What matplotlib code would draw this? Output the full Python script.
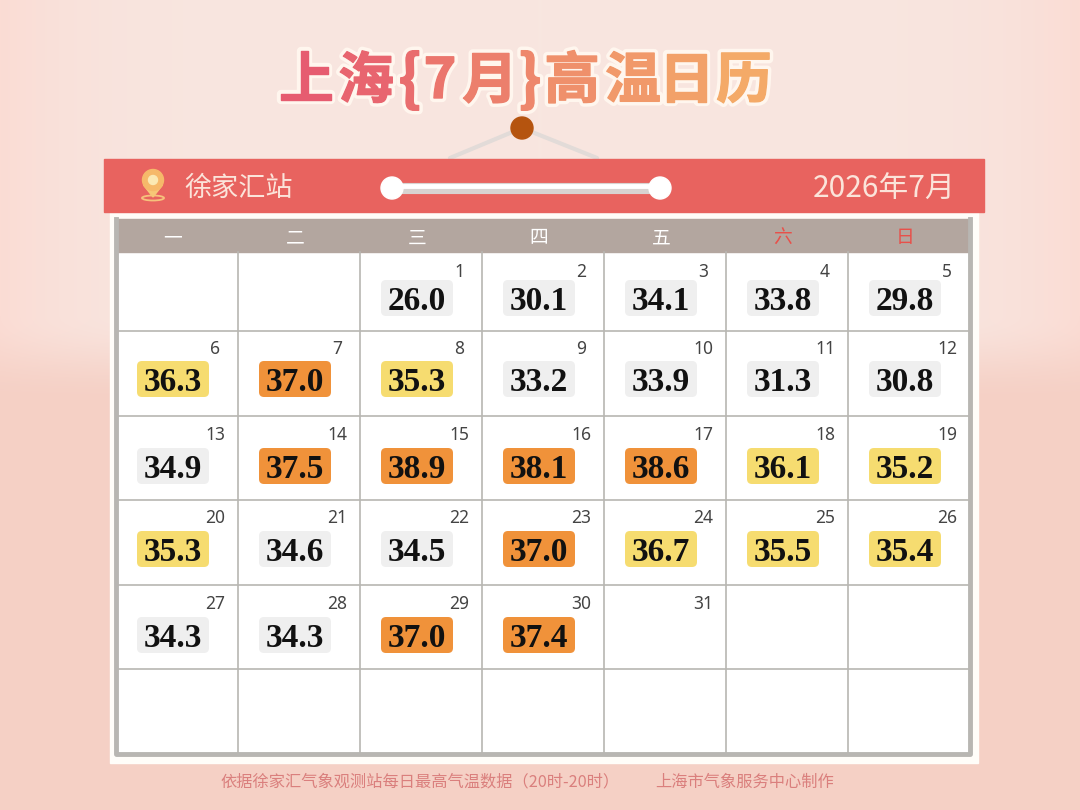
import matplotlib
matplotlib.use("Agg")
import matplotlib.pyplot as plt
import numpy as np
import matplotlib.patheffects as pe
from matplotlib.patches import Rectangle, FancyBboxPatch, Circle, Ellipse, Polygon

plt.rcParams['font.family'] = ['Noto Sans CJK SC', 'DejaVu Sans']

# daily highs, one entry per day of the month (None = not yet recorded)
days = list(range(1, 32))
temps = [26.0, 30.1, 34.1, 33.8, 29.8,
         36.3, 37.0, 35.3, 33.2, 33.9, 31.3, 30.8,
         34.9, 37.5, 38.9, 38.1, 38.6, 36.1, 35.2,
         35.3, 34.6, 34.5, 37.0, 36.7, 35.5, 35.4,
         34.3, 34.3, 37.0, 37.4, None]
weekdays = ['一', '二', '三', '四', '五', '六', '日']
first_col = 2

title_chars = ['上', '海', '{', '7', '月', '}', '高', '温', '日', '历']
title_x = [306, 366, 410, 440, 490, 530, 572, 633, 686, 744]
title_start = np.array([230, 92, 112]) / 255
title_end = np.array([244, 170, 104]) / 255

col_x = [116, 238, 360, 482, 604, 726, 848, 970]
row_y = [252, 331, 416, 500, 585, 669, 754]
pill_y = [298, 379, 466, 549, 635]
num_y = [270, 347, 433, 516, 602]

GREY = '#efefef'
YELLOW = '#f6dc70'
ORANGE = '#f0923a'
LINE = '#b8b6b2'


def pill_color(t):
    if t >= 37:
        return ORANGE
    if t >= 35:
        return YELLOW
    return GREY


fig = plt.figure(figsize=(10.8, 8.1), dpi=100)
ax = fig.add_axes([0, 0, 1, 1])
ax.set_xlim(0, 1080)
ax.set_ylim(810, 0)
ax.axis('off')

# background wash, pinker toward the side edges at the top
h = np.linspace(0, 1, 810)
w = np.linspace(-1, 1, 1080)
top = np.array([248, 230, 224]) / 255
edge = np.array([251, 220, 212]) / 255
bottom = np.array([245, 208, 197]) / 255
side = (np.abs(w) ** 6)[None, :, None]
upper = top * (1 - side) + edge * side
t = np.clip((h - 0.39) / 0.11, 0, 1)
mix = (t * t * (3 - 2 * t))[:, None, None]
bg = upper * (1 - mix) + bottom * mix
ax.imshow(bg, extent=[0, 1080, 810, 0], aspect='auto', zorder=0)

# title
for i, (c, x) in enumerate(zip(title_chars, title_x)):
    col = title_start + (title_end - title_start) * i / (len(title_chars) - 1)
    size = 44 if c in '{}' else 40
    ax.text(x, 82, c, color=col, fontsize=size, fontweight='bold', ha='center', va='center',
            zorder=6, path_effects=[pe.withStroke(linewidth=6, foreground='#fff6ee'),
                                    pe.withStroke(linewidth=1, foreground=col)])

# hanger
ax.plot([450, 522, 597], [158, 128, 158], color='#e2dbd8', lw=3, zorder=2, solid_capstyle='round')
ax.add_patch(Circle((522, 128), 11, color='#b5540f', zorder=3))

# card frame
ax.add_patch(Rectangle((110, 212), 868, 551, color='#fffdf9', zorder=1))
ax.add_patch(Rectangle((col_x[0], row_y[0]), col_x[-1] - col_x[0], row_y[-1] - row_y[0],
                       color='white', zorder=2))
ax.add_patch(Rectangle((col_x[0], 219), col_x[-1] - col_x[0], row_y[0] - 219, color='#b3a69f', zorder=2))

# grid
for x in col_x[1:-1]:
    ax.plot([x, x], [row_y[0], row_y[-1]], color=LINE, lw=1.2, zorder=3)
for y in row_y[1:-1]:
    ax.plot([col_x[0], col_x[-1]], [y, y], color=LINE, lw=1.2, zorder=3)
ax.plot([col_x[0], col_x[0], col_x[-1], col_x[-1]], [219, row_y[-1], row_y[-1], 219],
        color=LINE, lw=3.5, zorder=3)

# red band
ax.add_patch(Rectangle((104, 159), 880, 53, color='#e8635f', zorder=4))
ax.text(184, 188, '徐家汇站', color='#fbe4da', fontsize=19.5, fontweight='light',
        ha='left', va='center', zorder=5)
ax.text(955, 189, '2026年7月', color='#fbe4da', fontsize=21.5, fontweight='light',
        ha='right', va='center', zorder=5)

# pin
ax.add_patch(Ellipse((153, 198), 22, 5, fc='none', ec='#f6c27c', lw=1.3, zorder=5))
ax.add_patch(Polygon([(143.5, 185), (153, 197), (162.5, 185)], color='#f7c777', zorder=5))
ax.add_patch(Circle((153, 180), 10.5, color='#f6b96a', zorder=5))
ax.add_patch(Circle((153, 180), 4.5, color='#fbe9b4', zorder=6))

# hanging rail
ax.plot([392, 660], [188, 188], color='#d8d3d1', lw=8, zorder=5, solid_capstyle='butt')
ax.plot([392, 660], [186, 186], color='white', lw=3.5, zorder=5, solid_capstyle='butt')
ax.add_patch(Circle((392, 188), 11, color='white', zorder=6))
ax.add_patch(Circle((660, 188), 11, color='white', zorder=6))

# weekday header
for i, name in enumerate(weekdays):
    cx = (col_x[i] + col_x[i + 1]) / 2 - 4
    ax.text(cx, 238, name, color='#e8504a' if i >= 5 else 'white', fontsize=13.5,
            ha='center', va='center', zorder=5)

# cells
for d, t in zip(days, temps):
    pos = d - 1 + first_col
    row, col = pos // 7, pos % 7
    cx = (col_x[col] + col_x[col + 1]) / 2 - 4
    ax.text(col_x[col + 1] - 23, num_y[row], str(d), color='#444444', fontsize=12.5,
            family='Noto Sans', ha='center', va='center_baseline', zorder=5)
    if t is None:
        continue
    py = pill_y[row]
    ax.add_patch(FancyBboxPatch((cx - 32, py - 14), 64, 28, boxstyle='round,pad=4,rounding_size=5',
                                mutation_scale=1, fc=pill_color(t), ec='none', zorder=4))
    ax.text(cx, py, f'{t:.1f}', color='#111111', fontsize=24, family='Liberation Serif',
            fontweight='bold', ha='center', va='center_baseline', zorder=5)

# footer
ax.text(220, 782, '依据徐家汇气象观测站每日最高气温数据（20时-20时）', color='#da7f7d', fontsize=11.7,
        ha='left', va='center', zorder=5)
ax.text(834, 782, '上海市气象服务中心制作', color='#da7f7d', fontsize=11.7,
        ha='right', va='center', zorder=5)

fig.savefig('out.png', dpi=100)
